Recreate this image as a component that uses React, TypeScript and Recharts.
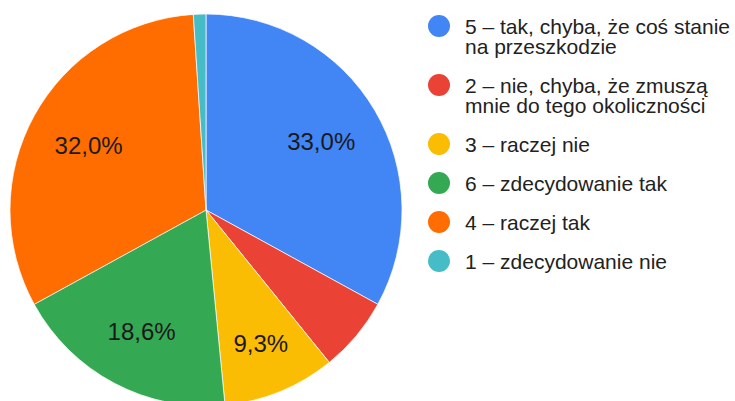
import React from "react";
import { PieChart, Pie, Cell, Legend } from "recharts";

const categories = [
  "5 – tak, chyba, że coś stanie na przeszkodzie",
  "2 – nie, chyba, że zmuszą mnie do tego okoliczności",
  "3 – raczej nie",
  "6 – zdecydowanie tak",
  "4 – raczej tak",
  "1 – zdecydowanie nie",
];
const counts = [32, 6, 9, 18, 31, 1];
const colors = ["#4285F4", "#EA4335", "#FBBC04", "#34A853", "#FF6D01", "#46BDC6"];

const data = categories.map((name, i) => ({ name, value: counts[i] }));

const RAD = Math.PI / 180;
const FONT = "'Liberation Sans', Arial, sans-serif";

const renderLabel = (props: any) => {
  const { cx, cy, midAngle, outerRadius, percent, startAngle, endAngle } = props;
  if (percent < 0.08) return null;
  const sliceDeg = Math.abs(endAngle - startAngle);
  // narrow slices push the label outward so the text fits inside the wedge
  const r = outerRadius * 0.683 + Math.max(0, (87 - sliceDeg) * 0.2);
  const x = cx + r * Math.cos(-midAngle * RAD);
  const y = cy + r * Math.sin(-midAngle * RAD);
  const txt = (percent * 100).toFixed(1).replace(".", ",") + "%";
  return (
    <text
      x={x}
      y={y}
      textAnchor="middle"
      dominantBaseline="central"
      fill="#1a1a1a"
      fontSize={24}
      fontFamily={FONT}
    >
      {txt}
    </text>
  );
};

const renderLegend = () => {
  let top = 16.5;
  const rows = categories.map((name, i) => {
    const lines = name.length > 30 ? 2 : 1;
    const t = top;
    top += lines * 20 + 19;
    return (
      <div
        key={name}
        style={{ position: "absolute", left: 0, top: t, width: 310, height: lines * 20 }}
      >
        <div
          style={{
            position: "absolute",
            left: 8,
            top: -1.7,
            width: 22,
            height: 22,
            borderRadius: "50%",
            background: colors[i],
          }}
        />
        <div
          style={{
            position: "absolute",
            left: 45,
            top: 0,
            width: 268,
            fontSize: 21,
            lineHeight: "20px",
            fontFamily: FONT,
            color: "#222222",
          }}
        >
          {name}
        </div>
      </div>
    );
  });
  return <div style={{ position: "relative", width: 315, height: 300 }}>{rows}</div>;
};

export default function App() {
  return (
    <div style={{ position: "absolute", left: 0, top: 0, width: 735, height: 401, background: "#fff", overflow: "hidden" }}>
      <PieChart width={735} height={401} margin={{ top: 0, right: 0, bottom: 0, left: 0 }}>
        <Pie
          data={data}
          dataKey="value"
          nameKey="name"
          cx={206}
          cy={210}
          outerRadius={196}
          startAngle={90}
          endAngle={-270}
          stroke="#ffffff"
          strokeWidth={0.7}
          label={renderLabel}
          labelLine={false}
          isAnimationActive={false}
        >
          {data.map((d, i) => (
            <Cell key={d.name} fill={colors[i]} />
          ))}
        </Pie>
        <Legend
          content={renderLegend}
          wrapperStyle={{ position: "absolute", left: 420, top: 0, width: 315, height: 300 }}
        />
      </PieChart>
    </div>
  );
}
